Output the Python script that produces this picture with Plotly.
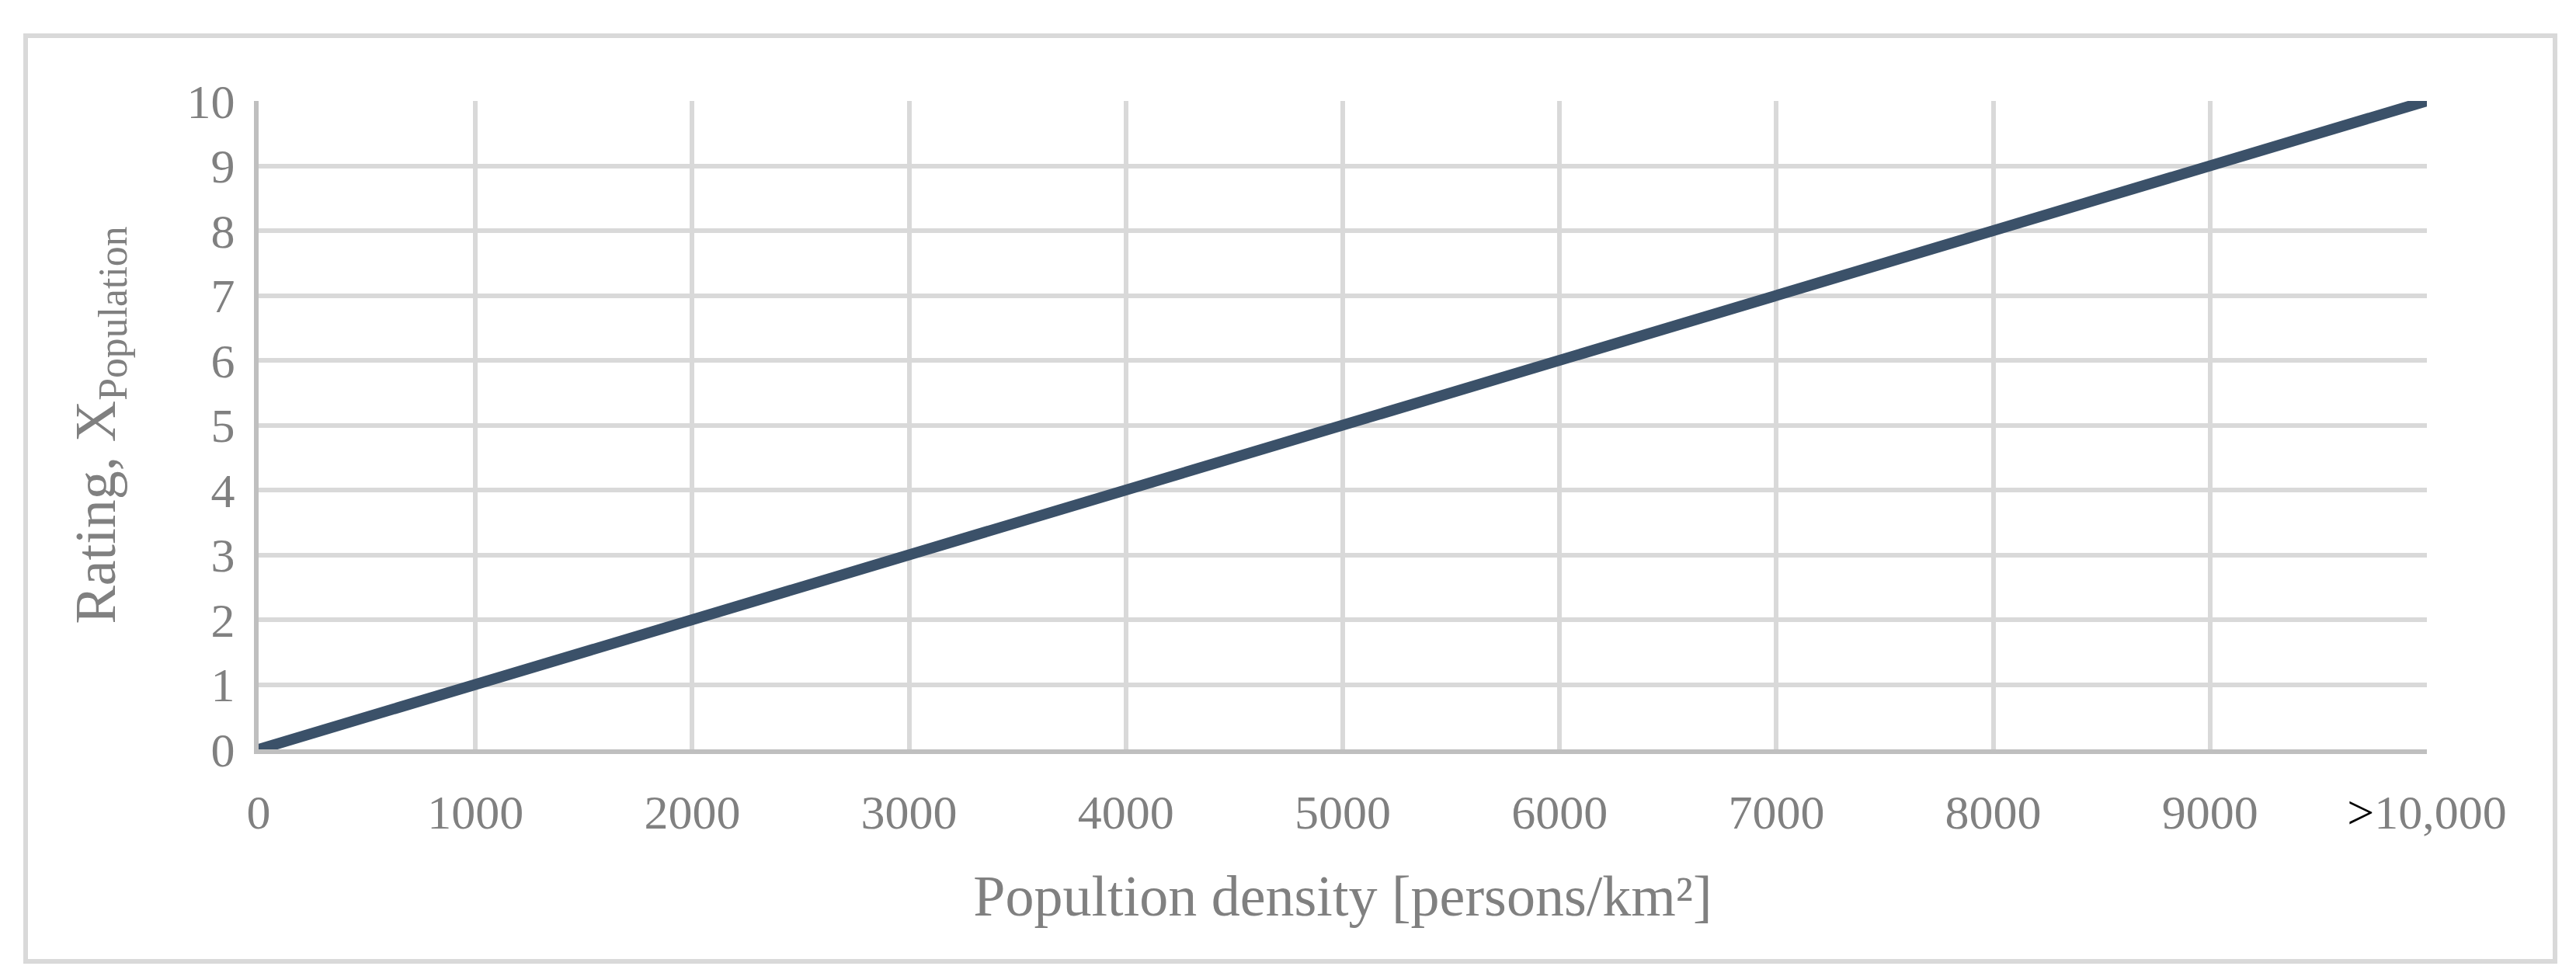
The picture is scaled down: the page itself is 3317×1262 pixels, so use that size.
import plotly.graph_objects as go

density = [0, 1000, 2000, 3000, 4000, 5000, 6000, 7000, 8000, 9000, 10000]
rating = [0, 1, 2, 3, 4, 5, 6, 7, 8, 9, 10]
x_labels = ["0", "1000", "2000", "3000", "4000", "5000", "6000", "7000", "8000", "9000",
            "<span style='color:black'>></span>10,000"]
y_ticks = [0, 1, 2, 3, 4, 5, 6, 7, 8, 9, 10]

W, H = 3317, 1262
L, R, T, B = 325, 200, 122, 305
pw, ph = W - L - R, H - T - B
font = "Liberation Serif, DejaVu Serif, serif"

fig = go.Figure(go.Scatter(x=density, y=rating, mode="lines",
                           line=dict(color="#3b5169", width=14)))
fig.update_layout(
    width=W, height=H, margin=dict(l=L, r=R, t=T, b=B),
    plot_bgcolor="white", paper_bgcolor="white", showlegend=False,
    font=dict(family=font, color="#808080", size=62),
    xaxis=dict(range=[0, 10000], tickvals=density, ticktext=x_labels,
               showgrid=True, gridcolor="#d9d9d9", gridwidth=6,
               showline=True, linecolor="#bfbfbf", linewidth=6,
               zeroline=False, ticks="", ticklabelstandoff=22,
               tickfont=dict(size=62),
               title=dict(text="Popultion density [persons/km²]", font=dict(size=74), standoff=50)),
    yaxis=dict(range=[0, 10], tickvals=y_ticks,
               showgrid=True, gridcolor="#d9d9d9", gridwidth=6,
               showline=True, linecolor="#bfbfbf", linewidth=6,
               zeroline=False, ticks="", ticklabelstandoff=12,
               tickfont=dict(size=62),
               title=dict(text="Rating, X<sub>Population</sub>", font=dict(size=74), standoff=70)),
)
bx0, bx1, by0, by1 = 25, 3282, 38, 1230
fig.add_shape(type="rect", xref="paper", yref="paper",
              x0=(bx0 - L) / pw, x1=(bx1 - L) / pw,
              y0=(T + ph - by1) / ph, y1=(T + ph - by0) / ph,
              line=dict(color="#d9d9d9", width=6), layer="below")
fig.write_html("out.html")
